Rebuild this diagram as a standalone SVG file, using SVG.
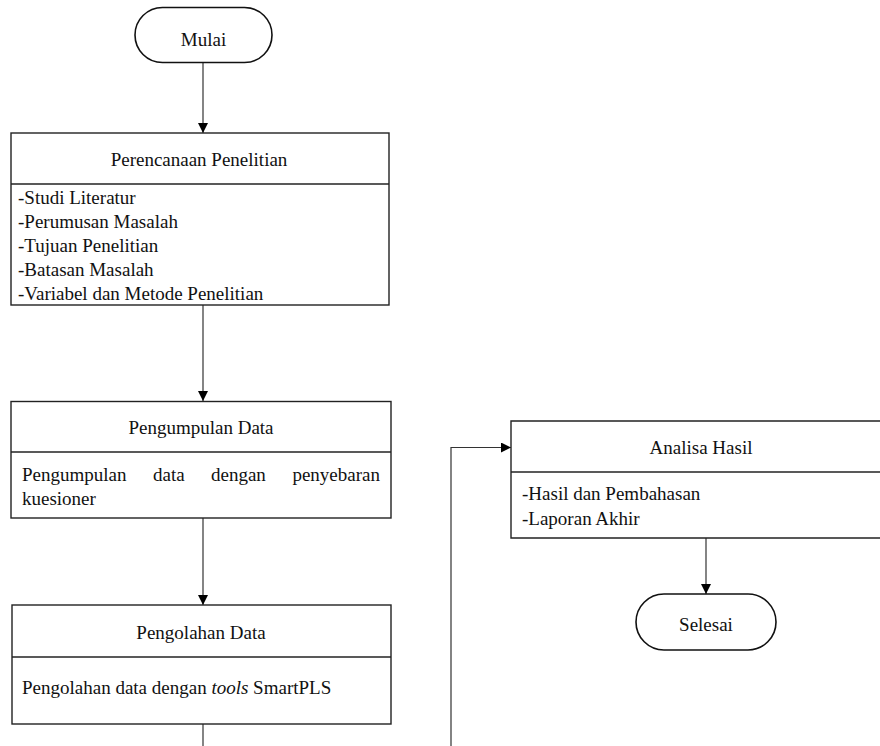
<svg xmlns="http://www.w3.org/2000/svg" width="880" height="746" viewBox="0 0 880 746">
<style>
.box{fill:#fff;stroke:#222;stroke-width:1.4}
.term{fill:#fff;stroke:#111;stroke-width:1.6}
.sep{stroke:#222;stroke-width:1.4}
.conn{fill:none;stroke:#333;stroke-width:1.2}
text{font-family:"Liberation Serif","Times New Roman",serif;font-size:19px;fill:#111}
.c{text-anchor:middle}
.e{text-anchor:end}
</style>
<defs>
<marker id="ah" markerWidth="10" markerHeight="10" refX="10" refY="5" orient="auto" markerUnits="userSpaceOnUse">
<path d="M0,0 L10,5 L0,10 Z" fill="#000"/>
</marker>
</defs>
<rect width="880" height="746" fill="#fff"/>
<g id="connectors">
<line class="conn" x1="203" y1="63" x2="203" y2="133" marker-end="url(#ah)"/>
<line class="conn" x1="203" y1="305" x2="203" y2="401" marker-end="url(#ah)"/>
<line class="conn" x1="203" y1="518" x2="203" y2="605" marker-end="url(#ah)"/>
<line class="conn" x1="203" y1="724" x2="203" y2="746"/>
<polyline class="conn" points="451,746 451,447.5 511,447.5" marker-end="url(#ah)"/>
<line class="conn" x1="706" y1="538" x2="706" y2="594" marker-end="url(#ah)"/>
</g>
<g id="mulai">
<rect class="term" x="135" y="7.5" width="137" height="55" rx="27.5"/>
<text class="c" x="203.5" y="46">Mulai</text>
</g>
<g id="perencanaan">
<rect class="box" x="11" y="133" width="378" height="172"/>
<line class="sep" x1="11" y1="184" x2="389" y2="184"/>
<text class="c" x="199" y="166">Perencanaan Penelitian</text>
<text x="18" y="204">-Studi Literatur</text>
<text x="18" y="228">-Perumusan Masalah</text>
<text x="18" y="252">-Tujuan Penelitian</text>
<text x="18" y="276">-Batasan Masalah</text>
<text x="18" y="300">-Variabel dan Metode Penelitian</text>
</g>
<g id="pengumpulan">
<rect class="box" x="11" y="401.5" width="380" height="116.5"/>
<line class="sep" x1="11" y1="452" x2="391" y2="452"/>
<text class="c" x="201" y="434">Pengumpulan Data</text>
<text x="22" y="481">Pengumpulan</text>
<text x="153" y="481">data</text>
<text x="211" y="481">dengan</text>
<text class="e" x="380" y="481">penyebaran</text>
<text x="22" y="505">kuesioner</text>
</g>
<g id="pengolahan">
<rect class="box" x="12" y="605" width="379" height="119"/>
<line class="sep" x1="12" y1="657" x2="391" y2="657"/>
<text class="c" x="201" y="639">Pengolahan Data</text>
<text x="22" y="694">Pengolahan data dengan <tspan font-style="italic">tools</tspan> SmartPLS</text>
</g>
<g id="analisa">
<path class="box" d="M882,421 L511,421 L511,538 L882,538"/>
<line class="sep" x1="511" y1="472" x2="882" y2="472"/>
<text class="c" x="701" y="454">Analisa Hasil</text>
<text x="522" y="500">-Hasil dan Pembahasan</text>
<text x="522" y="525">-Laporan Akhir</text>
</g>
<g id="selesai">
<rect class="term" x="636" y="594" width="140" height="56" rx="28"/>
<text class="c" x="706" y="631">Selesai</text>
</g>
</svg>
